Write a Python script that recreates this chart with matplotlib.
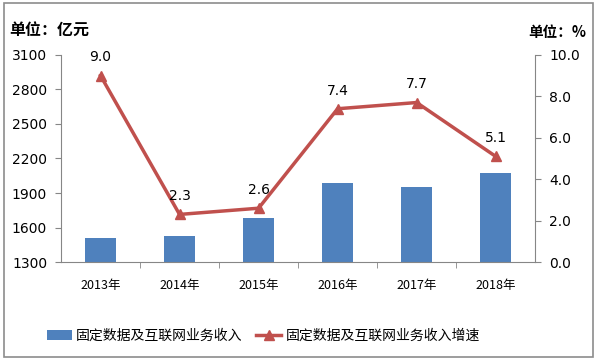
import matplotlib.pyplot as plt
from matplotlib.patches import Rectangle

plt.rcParams['font.family'] = ['DejaVu Sans', 'Noto Sans CJK SC']

years = ['2013年', '2014年', '2015年', '2016年', '2017年', '2018年']
revenue = [1510, 1526, 1683, 1987, 1952, 2074]
growth = [9.0, 2.3, 2.6, 7.4, 7.7, 5.1]
bar_name = '固定数据及互联网业务收入'
line_name = '固定数据及互联网业务收入增速'

bar_color = '#4F81BD'
line_color = '#C0504D'
axis_color = '#868686'

fig = plt.figure(figsize=(5.98, 3.61), dpi=100)
fig.patches.append(Rectangle((0.006, 0.011), 0.986, 0.98, transform=fig.transFigure,
                             fill=False, edgecolor='#8c8c8c', linewidth=1.2))

ax = fig.add_axes([0.102, 0.274, 0.793, 0.574])
x = range(len(years))
bars = ax.bar(x, revenue, width=0.39, color=bar_color, label=bar_name, zorder=2)
ax.set_xlim(-0.5, 5.5)
ax.set_ylim(1300, 3100)
ax.set_yticks(range(1300, 3101, 300))
ax.set_xticks(list(x))
ax.set_xticklabels(years, fontsize=9, family=['Noto Sans CJK SC'])
ax.set_xticks([i + 0.5 for i in range(5)], minor=True)
ax.tick_params(axis='x', which='major', length=0, pad=12)
ax.tick_params(axis='x', which='minor', length=4, color=axis_color, direction='out')
ax.tick_params(axis='y', length=4, color=axis_color, labelsize=10, pad=6)
ax.spines['top'].set_visible(False)
ax.spines['right'].set_visible(False)
for s in ['left', 'bottom']:
    ax.spines[s].set_color(axis_color)

ax2 = ax.twinx()
line, = ax2.plot(list(x), growth, color=line_color, linewidth=2.5, marker='^',
                 markersize=7, label=line_name, zorder=3)
ax2.set_ylim(0, 10)
ax2.set_yticks([0, 2, 4, 6, 8, 10])
ax2.set_yticklabels(['%.1f' % v for v in [0, 2, 4, 6, 8, 10]])
ax2.tick_params(axis='y', length=4, color=axis_color, labelsize=10, pad=6)
for s in ['top', 'left', 'bottom']:
    ax2.spines[s].set_visible(False)
ax2.spines['right'].set_color(axis_color)

for i, v in enumerate(growth):
    ax2.annotate('%.1f' % v, (i, v), xytext=(0, 8), textcoords='offset points',
                 ha='center', va='bottom', fontsize=10)

fig.text(0.015, 0.915, '单位：亿元', fontsize=11.5, fontweight='bold',
         family=['Noto Sans CJK SC'], va='center')
fig.text(0.883, 0.91, '单位：%', fontsize=10.5, fontweight='bold',
         family=['Noto Sans CJK SC'], va='center')

fig.legend([bars, line], [bar_name, line_name], loc='center', bbox_to_anchor=(0.44, 0.07),
           ncol=2, frameon=False, prop={'family': 'Noto Sans CJK SC', 'size': 10},
           handlelength=1.8, columnspacing=1.0, handletextpad=0.3)

fig.savefig('out.png', dpi=100)
